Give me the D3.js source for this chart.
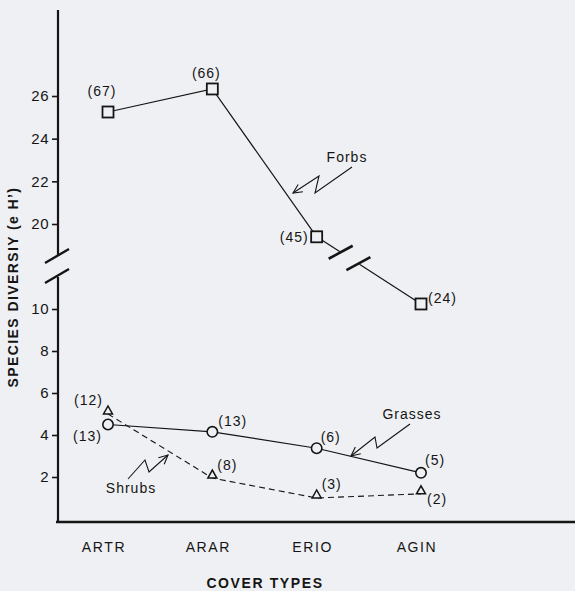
<!DOCTYPE html>
<html><head><meta charset="utf-8">
<script src="https://cdn.jsdelivr.net/npm/d3@7"></script>
<style>
html,body{margin:0;padding:0;background:#eff0f3;}
svg{display:block;}
text{font-family:"Liberation Sans",Arial,Helvetica,sans-serif;fill:#151515;}
</style></head>
<body>
<script>
const categories = ["ARTR","ARAR","ERIO","AGIN"];
const forbs = [25.25, 26.33, 19.4, 10.24];
const forbsN = [67, 66, 45, 24];
const grasses = [4.5, 4.15, 3.37, 2.2];
const grassesN = [13, 13, 6, 5];
const shrubs = [5.0, 1.95, 1.0, 1.2];
const shrubsN = [12, 8, 3, 2];
const upperTicks = [20, 22, 24, 26];
const lowerTicks = [2, 4, 6, 8, 10];

const W = 575, H = 591;
const svg = d3.select("body").append("svg").attr("width", W).attr("height", H);
svg.append("rect").attr("width", W).attr("height", H).attr("fill", "#eff0f3");

const x = d3.scalePoint().domain(categories).range([108, 421]);
const yLow = d3.scaleLinear().domain([0, 10]).range([519, 309]);
const yUp = d3.scaleLinear().domain([20, 26]).range([224, 96]);
const y = v => v >= 15 ? yUp(v) : yLow(v);

const ink = "#151515";
const axX = 58;

// axes lines
svg.append("line").attr("x1", axX).attr("x2", axX).attr("y1", 10).attr("y2", 255)
  .attr("stroke", ink).attr("stroke-width", 2.2);
svg.append("line").attr("x1", axX).attr("x2", axX).attr("y1", 277).attr("y2", 523)
  .attr("stroke", ink).attr("stroke-width", 2.2);
svg.append("line").attr("x1", axX - 2).attr("x2", 575).attr("y1", 522).attr("y2", 522)
  .attr("stroke", ink).attr("stroke-width", 2.6);
// axis break slashes
[[45,263,69,249],[45,283,69,269]].forEach(d => {
  svg.append("line").attr("x1", d[0]).attr("y1", d[1]).attr("x2", d[2]).attr("y2", d[3])
    .attr("stroke", ink).attr("stroke-width", 2.4);
});

function styleAxis(g) {
  g.select(".domain").remove();
  g.selectAll(".tick line").attr("stroke", ink).attr("stroke-width", 1.6);
  g.selectAll(".tick text").attr("font-size", 15).attr("fill", ink)
    .attr("font-family", "Liberation Sans, Arial, sans-serif").attr("letter-spacing", 0.5);
}
const fmt = d3.format("d");
svg.append("g").attr("transform", `translate(${axX},0)`)
  .call(d3.axisLeft(yUp).tickValues(upperTicks).tickFormat(fmt).tickSize(6).tickPadding(3)).call(styleAxis);
svg.append("g").attr("transform", `translate(${axX},0)`)
  .call(d3.axisLeft(yLow).tickValues(lowerTicks).tickFormat(fmt).tickSize(6).tickPadding(3)).call(styleAxis);

// category labels
svg.selectAll(".cat").data(categories).enter().append("text")
  .attr("x", d => x(d) - 4).attr("y", 552).attr("text-anchor", "middle")
  .attr("font-size", 14).attr("letter-spacing", 1.6).text(d => d);

// axis titles
svg.append("text").attr("x", 265).attr("y", 588).attr("text-anchor", "middle")
  .attr("font-size", 14).attr("font-weight", "bold").attr("letter-spacing", 1.6).text("COVER TYPES");
svg.append("text").attr("transform", "translate(18,287) rotate(-90)").attr("text-anchor", "middle")
  .attr("font-size", 14).attr("font-weight", "bold").attr("letter-spacing", 1.4).text("SPECIES DIVERSIY (e H’)");

// Forbs line (with break between ERIO and AGIN)
const fp = categories.map((c, i) => [x(c), y(forbs[i])]);
const line = d3.line();
svg.append("path").attr("d", line(fp.slice(0, 3))).attr("fill", "none").attr("stroke", ink).attr("stroke-width", 1.2);
const a = fp[2], b = fp[3];
const lerp = t => [a[0] + (b[0] - a[0]) * t, a[1] + (b[1] - a[1]) * t];
svg.append("path").attr("d", line([a, lerp(0.22)])).attr("fill", "none").attr("stroke", ink).attr("stroke-width", 1.2);
svg.append("path").attr("d", line([lerp(0.41), b])).attr("fill", "none").attr("stroke", ink).attr("stroke-width", 1.2);
[0.23, 0.40].forEach(t => {
  const c = lerp(t);
  svg.append("line").attr("x1", c[0] - 12).attr("y1", c[1] + 6.5).attr("x2", c[0] + 12).attr("y2", c[1] - 6.5)
    .attr("stroke", ink).attr("stroke-width", 2.6);
});
svg.selectAll(".sq").data(fp).enter().append("rect")
  .attr("x", d => d[0] - 5.5).attr("y", d => d[1] - 5.5).attr("width", 11).attr("height", 11)
  .attr("fill", "#eff0f3").attr("stroke", ink).attr("stroke-width", 1.8);

// Grasses
const gp = categories.map((c, i) => [x(c), y(grasses[i])]);
svg.append("path").attr("d", line(gp)).attr("fill", "none").attr("stroke", ink).attr("stroke-width", 1.2);
svg.selectAll(".ci").data(gp).enter().append("circle")
  .attr("cx", d => d[0]).attr("cy", d => d[1]).attr("r", 5.2)
  .attr("fill", "#eff0f3").attr("stroke", ink).attr("stroke-width", 1.6);

// Shrubs
const sp = categories.map((c, i) => [x(c), y(shrubs[i])]);
svg.append("path").attr("d", line(sp)).attr("fill", "none").attr("stroke", ink)
  .attr("stroke-width", 1.1).attr("stroke-dasharray", "6,4");
svg.selectAll(".tri").data(sp).enter().append("path")
  .attr("d", d => `M${d[0] - 4.5},${d[1]} L${d[0] + 4.5},${d[1]} L${d[0]},${d[1] - 8} Z`)
  .attr("fill", "#eff0f3").attr("stroke", ink).attr("stroke-width", 1.5);

// count labels
const lab = (px, py, t, anchor) => svg.append("text").attr("x", px).attr("y", py)
  .attr("text-anchor", anchor || "start").attr("font-size", 14).attr("letter-spacing", 1).text(t);
// forbs
lab(fp[0][0] - 6, fp[0][1] - 16, `(${forbsN[0]})`, "middle");
lab(fp[1][0] - 6, fp[1][1] - 11, `(${forbsN[1]})`, "middle");
lab(fp[2][0] - 8, fp[2][1] + 5, `(${forbsN[2]})`, "end");
lab(fp[3][0] + 7, fp[3][1] - 1, `(${forbsN[3]})`);
// grasses
lab(gp[0][0] - 6, gp[0][1] + 16, `(${grassesN[0]})`, "end");
lab(gp[1][0] + 6, gp[1][1] - 6, `(${grassesN[1]})`);
lab(gp[2][0] + 4, gp[2][1] - 6, `(${grassesN[2]})`);
lab(gp[3][0] + 4, gp[3][1] - 8, `(${grassesN[3]})`);
// shrubs
lab(sp[0][0] - 5, sp[0][1] - 9, `(${shrubsN[0]})`, "end");
lab(sp[1][0] + 5, sp[1][1] - 8, `(${shrubsN[1]})`);
lab(sp[2][0] + 5, sp[2][1] - 9, `(${shrubsN[2]})`);
lab(sp[3][0] + 6, sp[3][1] + 10, `(${shrubsN[3]})`);

// annotation labels with zigzag arrows
function zig(pts) {
  svg.append("path").attr("d", line(pts)).attr("fill", "none").attr("stroke", ink).attr("stroke-width", 1.1);
  const p = pts[pts.length - 1], q = pts[pts.length - 2];
  const ang = Math.atan2(p[1] - q[1], p[0] - q[0]);
  const L = 10, s = 0.45;
  const h1 = [p[0] - L * Math.cos(ang - s), p[1] - L * Math.sin(ang - s)];
  const h2 = [p[0] - L * Math.cos(ang + s), p[1] - L * Math.sin(ang + s)];
  svg.append("path").attr("d", line([h1, p, h2])).attr("fill", "none").attr("stroke", ink).attr("stroke-width", 1.1);
}
svg.append("text").attr("x", 347).attr("y", 162).attr("text-anchor", "middle").attr("font-size", 14)
  .attr("letter-spacing", 1).text("Forbs");
zig([[352, 167], [315, 193], [319, 176], [293, 193]]);
svg.append("text").attr("x", 412).attr("y", 419).attr("text-anchor", "middle").attr("font-size", 14)
  .attr("letter-spacing", 1).text("Grasses");
zig([[410, 424], [377, 448], [375, 437], [351, 456]]);
svg.append("text").attr("x", 131).attr("y", 493).attr("text-anchor", "middle").attr("font-size", 14)
  .attr("letter-spacing", 1).text("Shrubs");
zig([[128, 479], [145, 460], [149, 472], [168, 455]]);
</script>
</body></html>
